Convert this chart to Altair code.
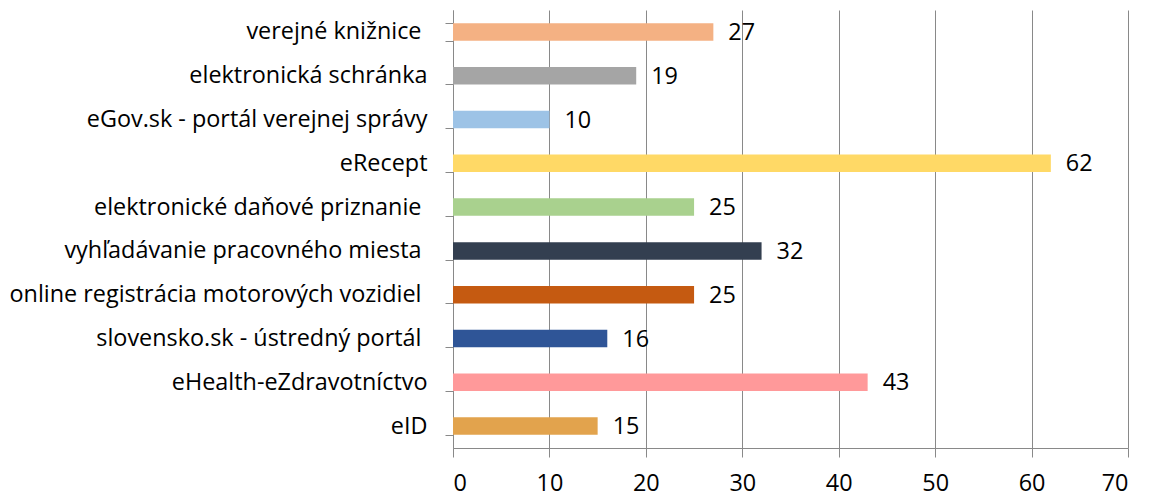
import altair as alt
import pandas as pd

categories = [
    "verejné knižnice",
    "elektronická schránka",
    "eGov.sk - portál verejnej správy",
    "eRecept",
    "elektronické daňové priznanie",
    "vyhľadávanie pracovného miesta",
    "online registrácia motorových vozidiel",
    "slovensko.sk - ústredný portál",
    "eHealth-eZdravotníctvo",
    "eID",
]
# labels that carry a trailing space in the original chart
trailing_space = [
    "verejné knižnice",
    "elektronické daňové priznanie",
    "vyhľadávanie pracovného miesta",
    "online registrácia motorových vozidiel",
    "slovensko.sk - ústredný portál",
]
values = [27, 19, 10, 62, 25, 32, 25, 16, 43, 15]
colors = ["#F4B183", "#A5A5A5", "#9DC3E6", "#FFD966", "#A9D18E",
          "#333F50", "#C55A11", "#2F5597", "#FF999A", "#E2A34D"]
x_ticks = [0, 10, 20, 30, 40, 50, 60, 70]

df = pd.DataFrame({"cat": categories, "val": values, "col": colors})

FONT = "Open Sans"
FS = 23.4

ts_list = "[" + ",".join("'" + s + "'" for s in trailing_space) + "]"

y_enc = alt.Y("cat:N", sort=categories,
              scale=alt.Scale(paddingInner=0.6, paddingOuter=0.3),
              axis=alt.Axis(title=None, tickBand="extent", tickSize=8,
                            tickColor="#898989", domainColor="#898989",
                            labelPadding={"condition": {"test": f"indexof({ts_list}, datum.value) >= 0", "value": 24},
                                          "value": 18},
                            labelFont=FONT, labelFontSize=FS,
                            labelColor="#000000", labelLimit=0, grid=False))
x_enc = alt.X("val:Q", scale=alt.Scale(domain=[0, 70], nice=False),
              axis=alt.Axis(title=None, values=x_ticks, tickSize=9,
                            tickColor="#898989", domainColor="#898989",
                            gridColor="#898989", grid=True,
                            labelPadding=15, labelFont=FONT, labelFontSize=FS,
                            labelColor="#000000"))

bars = alt.Chart(df).mark_bar().encode(
    x=x_enc, y=y_enc,
    color=alt.Color("col:N", scale=None),
)
labels = alt.Chart(df).mark_text(align="left", baseline="middle", dx=15, dy=1,
                                 font=FONT, fontSize=FS, color="#000000").encode(
    x=alt.X("val:Q"), y=alt.Y("cat:N", sort=categories), text="val:Q"
)

chart = (bars + labels).properties(
    width=675, height=438,
    autosize=alt.AutoSizeParams(type="none"),
    padding={"left": 445, "top": 2, "right": 15, "bottom": 44},
).configure_view(stroke=None)

chart.save("out.html", embed_options={"renderer": "svg", "actions": False})
